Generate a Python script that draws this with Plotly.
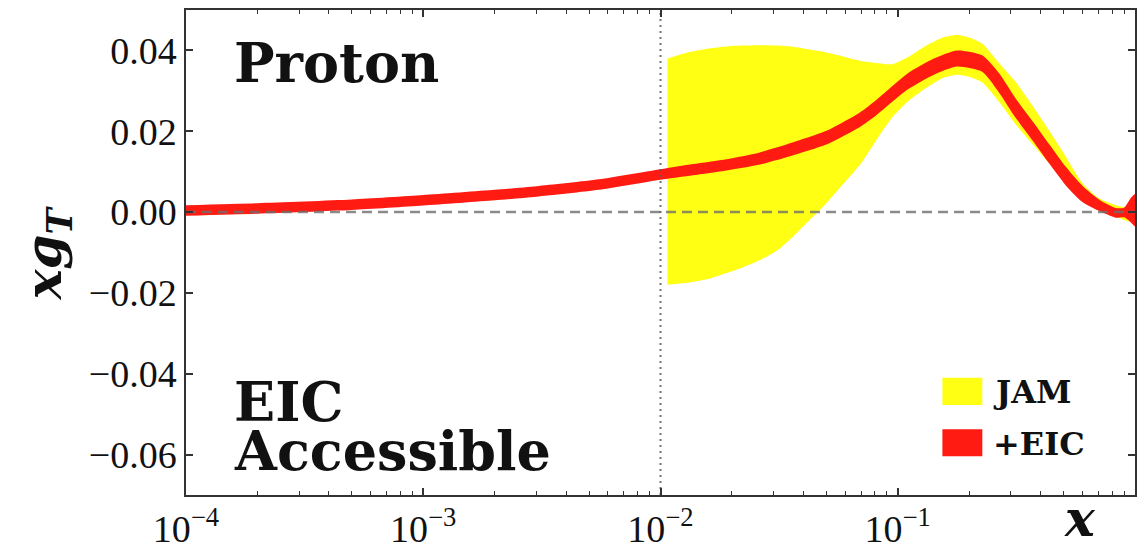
import plotly.graph_objects as go

# EIC (+EIC) band
eic_x = [1e-4, 2e-4, 5e-4, 1e-3, 2e-3, 3e-3, 5.5e-3, 0.01, 0.0137, 0.019, 0.026, 0.036,
         0.05, 0.069, 0.081, 0.11, 0.142, 0.178, 0.227, 0.267, 0.315, 0.37, 0.435,
         0.511, 0.6, 0.705, 0.829, 0.9, 0.96, 1.0]
eic_lo = [-0.0009, -0.0004, 0.0005, 0.0016, 0.0029, 0.0038, 0.0055, 0.0080, 0.0091,
          0.0103, 0.0117, 0.0140, 0.0167, 0.0210, 0.0239, 0.0303, 0.0340, 0.0360,
          0.0347, 0.0296, 0.0232, 0.0177, 0.0120, 0.0066, 0.0025, 0.0003, -0.0014,
          -0.0013, -0.0025, -0.0035]
eic_hi = [0.0017, 0.0022, 0.0031, 0.0042, 0.0055, 0.0064, 0.0081, 0.0106, 0.0119,
          0.0131, 0.0147, 0.0172, 0.0201, 0.0246, 0.0277, 0.0343, 0.0380, 0.0400,
          0.0388, 0.0344, 0.0280, 0.0225, 0.0168, 0.0112, 0.0065, 0.0031, 0.0010,
          0.0011, 0.0035, 0.0045]

# JAM band
jam_x = [0.0107, 0.013, 0.016, 0.019, 0.022, 0.026, 0.031, 0.036, 0.04, 0.046, 0.05,
         0.058, 0.065, 0.07, 0.081, 0.095, 0.11, 0.13, 0.155, 0.178, 0.2, 0.227,
         0.267, 0.315, 0.37, 0.435, 0.511, 0.6, 0.705, 0.829, 0.95, 1.0]
jam_hi = [0.0380, 0.0395, 0.0405, 0.0410, 0.0412, 0.0413, 0.0412, 0.0409, 0.0405,
          0.0399, 0.0395, 0.0386, 0.0378, 0.0374, 0.0369, 0.0366, 0.0383, 0.0410,
          0.0432, 0.0438, 0.0432, 0.0417, 0.0369, 0.0321, 0.0263, 0.0201, 0.0137,
          0.0072, 0.0034, 0.0017, 0.0010, 0.0008]
jam_lo = [-0.0180, -0.0175, -0.0165, -0.0151, -0.0138, -0.0120, -0.0095, -0.0062,
          -0.0035, 0.0000, 0.0022, 0.0065, 0.0098, 0.0120, 0.0177, 0.0235, 0.0273,
          0.0305, 0.0332, 0.0340, 0.0335, 0.0321, 0.0273, 0.0216, 0.0168, 0.0120,
          0.0072, 0.0034, 0.0005, -0.0012, -0.0024, -0.0030]

x_range = [1e-4, 1.0]
y_range = [-0.07, 0.05]
xtick_vals = [1e-4, 1e-3, 1e-2, 1e-1]
xtick_text = ["10<sup>−4</sup>", "10<sup>−3</sup>", "10<sup>−2</sup>", "10<sup>−1</sup>"]
ytick_vals = [-0.06, -0.04, -0.02, 0.0, 0.02, 0.04]
x_minor = [m * 10 ** e for e in (-4, -3, -2, -1) for m in range(2, 10)]

YELLOW = "#ffff14"
RED = "#ff1a12"
BOLD = "DejaVu Serif"

fig = go.Figure()
fig.add_trace(go.Scatter(x=jam_x + jam_x[::-1], y=jam_hi + jam_lo[::-1], fill="toself",
                         fillcolor=YELLOW, line=dict(width=0, shape="spline", smoothing=0.6),
                         mode="lines", showlegend=False, hoverinfo="skip"))
fig.add_trace(go.Scatter(x=eic_x + eic_x[::-1], y=eic_hi + eic_lo[::-1], fill="toself",
                         fillcolor=RED, line=dict(width=0, shape="spline", smoothing=0.6),
                         mode="lines", showlegend=False, hoverinfo="skip"))
fig.add_trace(go.Scatter(x=x_range, y=[0, 0], mode="lines",
                         line=dict(color="rgba(110,110,110,0.8)", width=2.5, dash="10px,6px"),
                         showlegend=False, hoverinfo="skip"))
fig.add_trace(go.Scatter(x=[0.01, 0.01], y=y_range, mode="lines",
                         line=dict(color="rgba(90,90,90,0.85)", width=2, dash="2px,4px"),
                         showlegend=False, hoverinfo="skip"))

axis_common = dict(showline=True, linecolor="#333", linewidth=1.5, mirror="ticks",
                   ticks="inside", tickcolor="#333", tickwidth=1.5, ticklen=7,
                   showgrid=False, zeroline=False,
                   tickfont=dict(family="Liberation Serif", size=38, color="#111"))

fig.update_xaxes(type="log", range=[-4, 0], tickmode="array", tickvals=xtick_vals,
                 ticktext=xtick_text,
                 minor=dict(tickmode="array", tickvals=x_minor, ticks="inside",
                            ticklen=4, tickwidth=1.2, tickcolor="#333", showgrid=False),
                 **axis_common)
fig.update_yaxes(range=y_range, tickmode="array", tickvals=ytick_vals,
                 tickformat=".2f", **axis_common)

ann = []
def txt(x, y, s, size, xanchor="left", yanchor="middle", angle=0, family=BOLD):
    ann.append(dict(x=x, y=y, xref="paper", yref="paper", text=s, showarrow=False,
                    xanchor=xanchor, yanchor=yanchor, textangle=angle,
                    font=dict(family=family, size=size, color="#111")))

W, H = 1145, 558
L, R, T, B = 186, 8, 9, 48
pw, ph = W - L - R, H - T - B
def px(x):
    return (x - L) / pw
def py(y):
    return (H - B - y) / ph

txt(px(232), py(64), "<b>Proton</b>", 54)
txt(px(232), py(414), "<b>EIC</b>", 54)
txt(px(232), py(465), "<b>Accessible</b>", 54)
txt(px(47), py(260), "<b><i>xg</i></b><sub><b><i>T</i></b></sub>", 50, xanchor="center", angle=-90,
    family="DejaVu Serif")
txt(px(1082), py(534), "<b><i>x</i></b>", 50, xanchor="center", family="DejaVu Serif")
txt(px(993), py(404), "<b>JAM</b>", 32)
txt(px(993), py(457), "<b>+EIC</b>", 32)
fig.update_layout(annotations=ann)

shapes = [
    dict(type="rect", xref="paper", yref="paper", x0=px(944), x1=px(984), y0=py(417), y1=py(389),
         fillcolor=YELLOW, line=dict(width=0)),
    dict(type="rect", xref="paper", yref="paper", x0=px(944), x1=px(984), y0=py(470), y1=py(442),
         fillcolor=RED, line=dict(width=0)),
]
fig.update_layout(shapes=shapes)

fig.update_layout(width=W, height=H, margin=dict(l=L, r=R, t=T, b=B),
                  plot_bgcolor="white", paper_bgcolor="white", showlegend=False)
fig.write_html("out.html")
